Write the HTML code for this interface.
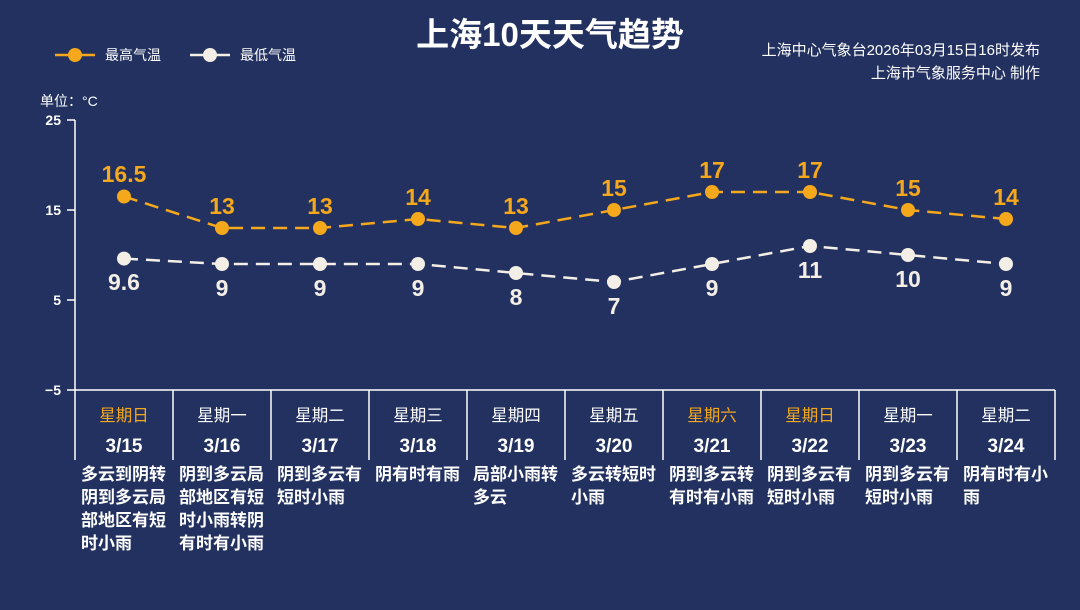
<!DOCTYPE html>
<html><head><meta charset="utf-8"><style>
body{margin:0;width:1080px;height:610px;background:#22315f;overflow:hidden;font-family:"Liberation Sans","Noto Sans CJK SC",sans-serif;color:#fff}
svg{position:absolute;left:0;top:0}
</style></head><body>
<svg width="1080" height="610" font-family="Liberation Sans, Noto Sans CJK SC, sans-serif">
<text x="550" y="46" fill="#fff" font-size="33" font-weight="bold" text-anchor="middle">上海10天天气趋势</text>
<line x1="55" y1="55" x2="95" y2="55" stroke="#f5a81c" stroke-width="2.5"/><circle cx="75" cy="55" r="7" fill="#f5a81c"/>
<text x="105" y="60" fill="#fff" font-size="14">最高气温</text>
<line x1="190" y1="55" x2="230" y2="55" stroke="#f4efe6" stroke-width="2.5"/><circle cx="210" cy="55" r="7" fill="#f4efe6"/>
<text x="240" y="60" fill="#fff" font-size="14">最低气温</text>
<text x="1040" y="55" fill="#fff" font-size="15" text-anchor="end">上海中心气象台2026年03月15日16时发布</text>
<text x="1040" y="78" fill="#fff" font-size="15" text-anchor="end">上海市气象服务中心  制作</text>
<text x="40" y="106" fill="#fff" font-size="14">单位：°C</text>
<g stroke="#fff" stroke-width="1.5">
<line x1="75" y1="120" x2="75" y2="460"/>
<line x1="67" y1="120" x2="75" y2="120"/><line x1="67" y1="210" x2="75" y2="210"/><line x1="67" y1="300" x2="75" y2="300"/>
<line x1="67" y1="390" x2="1055" y2="390"/>
<line x1="173" y1="390" x2="173" y2="460"/><line x1="271" y1="390" x2="271" y2="460"/><line x1="369" y1="390" x2="369" y2="460"/><line x1="467" y1="390" x2="467" y2="460"/><line x1="565" y1="390" x2="565" y2="460"/><line x1="663" y1="390" x2="663" y2="460"/><line x1="761" y1="390" x2="761" y2="460"/><line x1="859" y1="390" x2="859" y2="460"/><line x1="957" y1="390" x2="957" y2="460"/><line x1="1055" y1="390" x2="1055" y2="460"/>
</g>
<g fill="#fff" font-size="14" font-weight="bold" text-anchor="end">
<text x="61" y="125">25</text><text x="61" y="215">15</text><text x="61" y="305">5</text><text x="61" y="395">−5</text></g>
<polyline fill="none" stroke="#f5a81c" stroke-width="2.5" stroke-dasharray="14,8" points="124,196.5 222,228 320,228 418,219 516,228 614,210 712,192 810,192 908,210 1006,219"/>
<polyline fill="none" stroke="#f4efe6" stroke-width="2.5" stroke-dasharray="14,8" points="124,258.6 222,264 320,264 418,264 516,273 614,282 712,264 810,246 908,255 1006,264"/>
<g fill="#f5a81c"><circle cx="124" cy="196.5" r="7"/><circle cx="222" cy="228" r="7"/><circle cx="320" cy="228" r="7"/><circle cx="418" cy="219" r="7"/><circle cx="516" cy="228" r="7"/><circle cx="614" cy="210" r="7"/><circle cx="712" cy="192" r="7"/><circle cx="810" cy="192" r="7"/><circle cx="908" cy="210" r="7"/><circle cx="1006" cy="219" r="7"/></g>
<g fill="#f4efe6"><circle cx="124" cy="258.6" r="7"/><circle cx="222" cy="264" r="7"/><circle cx="320" cy="264" r="7"/><circle cx="418" cy="264" r="7"/><circle cx="516" cy="273" r="7"/><circle cx="614" cy="282" r="7"/><circle cx="712" cy="264" r="7"/><circle cx="810" cy="246" r="7"/><circle cx="908" cy="255" r="7"/><circle cx="1006" cy="264" r="7"/></g>
<g fill="#f5a81c" font-size="23" font-weight="bold" text-anchor="middle">
<text x="124" y="182">16.5</text><text x="222" y="214">13</text><text x="320" y="214">13</text><text x="418" y="205">14</text><text x="516" y="214">13</text><text x="614" y="196">15</text><text x="712" y="178">17</text><text x="810" y="178">17</text><text x="908" y="196">15</text><text x="1006" y="205">14</text></g>
<g fill="#f4efe6" font-size="23" font-weight="bold" text-anchor="middle">
<text x="124" y="290">9.6</text><text x="222" y="296">9</text><text x="320" y="296">9</text><text x="418" y="296">9</text><text x="516" y="305">8</text><text x="614" y="314">7</text><text x="712" y="296">9</text><text x="810" y="278">11</text><text x="908" y="287">10</text><text x="1006" y="296">9</text></g>
<g font-size="16.5" text-anchor="middle" fill="#fff">
<text x="124" y="421" fill="#f5a81c">星期日</text><text x="222" y="421">星期一</text><text x="320" y="421">星期二</text><text x="418" y="421">星期三</text><text x="516" y="421">星期四</text><text x="614" y="421">星期五</text><text x="712" y="421" fill="#f5a81c">星期六</text><text x="810" y="421" fill="#f5a81c">星期日</text><text x="908" y="421">星期一</text><text x="1006" y="421">星期二</text></g>
<g font-size="19" font-weight="bold" text-anchor="middle" fill="#fff">
<text x="124" y="452">3/15</text><text x="222" y="452">3/16</text><text x="320" y="452">3/17</text><text x="418" y="452">3/18</text><text x="516" y="452">3/19</text><text x="614" y="452">3/20</text><text x="712" y="452">3/21</text><text x="810" y="452">3/22</text><text x="908" y="452">3/23</text><text x="1006" y="452">3/24</text></g>
<g font-size="17" font-weight="bold" fill="#fff">
<text x="81" y="480">多云到阴转</text><text x="81" y="503">阴到多云局</text><text x="81" y="526">部地区有短</text><text x="81" y="549">时小雨</text>
<text x="179" y="480">阴到多云局</text><text x="179" y="503">部地区有短</text><text x="179" y="526">时小雨转阴</text><text x="179" y="549">有时有小雨</text>
<text x="277" y="480">阴到多云有</text><text x="277" y="503">短时小雨</text>
<text x="375" y="480">阴有时有雨</text>
<text x="473" y="480">局部小雨转</text><text x="473" y="503">多云</text>
<text x="571" y="480">多云转短时</text><text x="571" y="503">小雨</text>
<text x="669" y="480">阴到多云转</text><text x="669" y="503">有时有小雨</text>
<text x="767" y="480">阴到多云有</text><text x="767" y="503">短时小雨</text>
<text x="865" y="480">阴到多云有</text><text x="865" y="503">短时小雨</text>
<text x="963" y="480">阴有时有小</text><text x="963" y="503">雨</text>
</g>
</svg>
</body></html>
